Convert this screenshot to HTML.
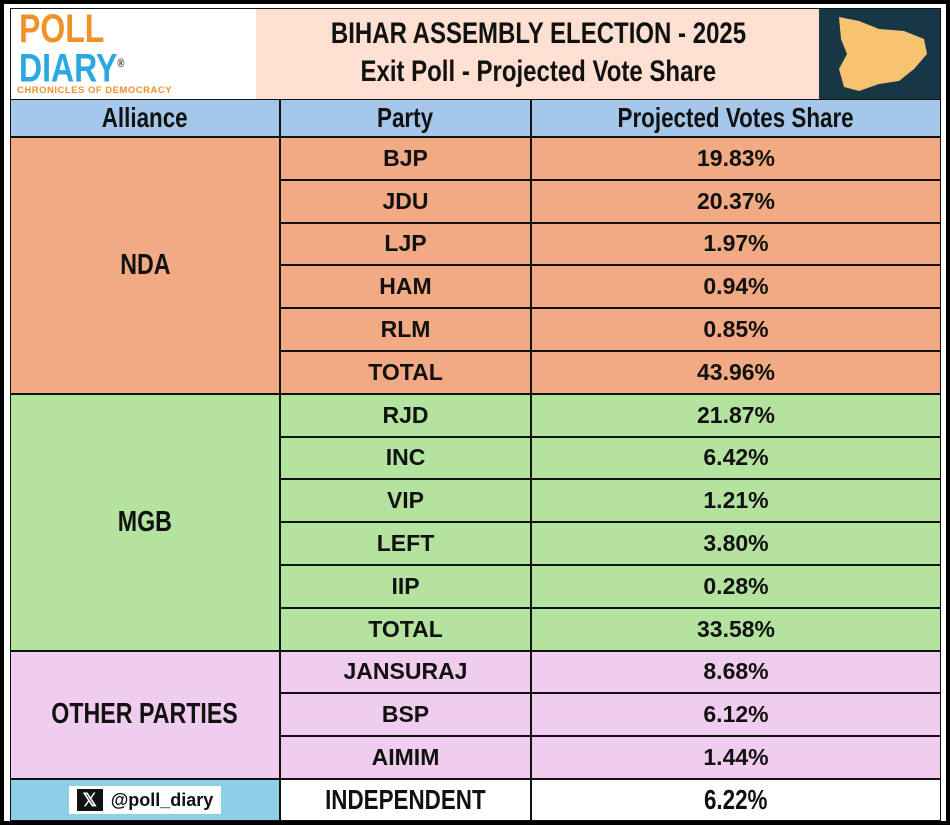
<!DOCTYPE html>
<html><head><meta charset="utf-8">
<style>
body{margin:0;width:950px;height:825px;background:#000;overflow:hidden;font-family:"Liberation Sans",sans-serif}
#frame{position:absolute;left:4px;top:4px;width:942px;height:817px;background:#fff}
.c{position:absolute;box-sizing:border-box;display:flex;align-items:center;justify-content:center;font-weight:bold;color:#111;font-size:23px;white-space:nowrap}
.nar{display:inline-block;transform:scaleX(0.8)}
</style></head><body>
<div id="frame"></div>
<div id="root"></div>
<script>
const parties=["BJP","JDU","LJP","HAM","RLM","TOTAL","RJD","INC","VIP","LEFT","IIP","TOTAL","JANSURAJ","BSP","AIMIM","INDEPENDENT"];
const shares=[19.83,20.37,1.97,0.94,0.85,43.96,21.87,6.42,1.21,3.80,0.28,33.58,8.68,6.12,1.44,6.22];
const groups=["NDA","MGB","OTHER PARTIES"];
const groupSizes=[6,6,3];
const groupColors=["#f2aa84","#b4e3a0","#f0cdee"];
const root=document.getElementById('root');
function box(x,y,w,h,bg,txt,name,narrow,fs){
  const d=document.createElement('div');
  d.className='c';
  d.style.cssText=`left:${x}px;top:${y}px;width:${w}px;height:${h}px;background:${bg};border:1.5px solid #111;`+(fs?`font-size:${fs}px;`:'');
  if(narrow){d.innerHTML='<span class="nar">'+txt+'</span>';}else d.textContent=txt;
  
  
  root.appendChild(d);return d;
}
const X0=10,X1=280,X2=531,X3=941;
const t=box(X0,8,X3-X0,92,'#fde0d2','','title-banner');
const logo=document.createElement('div');
logo.style.cssText='position:absolute;left:0;top:0;width:245px;height:90px;background:#fff;overflow:hidden';
logo.innerHTML='<div style="position:absolute;left:8px;top:2px;font-size:40px;font-weight:bold;color:#f0922a;line-height:36px;transform:scaleX(0.8);transform-origin:left">POLL</div><div style="position:absolute;left:8px;top:36px;font-size:40px;font-weight:bold;color:#2ba8df;line-height:36px;transform:scaleX(0.8);transform-origin:left">DIARY<sup style="font-size:12px;color:#333">®</sup></div><div style="position:absolute;left:6px;top:76px;font-size:9.5px;font-weight:bold;color:#f0922a;letter-spacing:0.5px">CHRONICLES OF DEMOCRACY</div>';


t.appendChild(logo);
const tt=document.createElement('div');
tt.style.cssText='position:absolute;left:245px;width:565px;top:6px;text-align:center;font-size:30px;line-height:38px;color:#111';
tt.innerHTML='<span class="nar">BIHAR ASSEMBLY ELECTION - 2025</span><br><span class="nar">Exit Poll - Projected Vote Share</span>';


t.appendChild(tt);
const map=document.createElement('div');
map.style.cssText='position:absolute;right:0;top:0;width:121px;height:90px;background:#173646';
map.innerHTML='<svg width="121" height="90"><path d="M20 8 L40 12 L60 20 L85 22 L105 30 L108 45 L95 60 L80 72 L60 75 L40 82 L25 78 L20 60 L28 45 L22 30 Z" fill="#f7c370"/></svg>';


t.appendChild(map);
const HY=99,HH=38;
box(X0,HY,X1-X0,HH,'#a5c8ea','Alliance','header-alliance',true,28);
box(X1,HY,X2-X1,HH,'#a5c8ea','Party','header-party',true,28);
box(X2,HY,X3-X2,HH,'#a5c8ea','Projected Votes Share','header-share',true,28);
const RH=42.8;let y=HY+HH,i=0;
groups.forEach((g,gi)=>{
  const n=groupSizes[gi];
  box(X0,y,X1-X0,RH*n,groupColors[gi],g,'alliance-'+g.toLowerCase().replace(' ','-'),true,29);
  for(let k=0;k<n;k++){
    box(X1,y+k*RH,X2-X1,RH,groupColors[gi],parties[i],'party-'+parties[i].toLowerCase());
    box(X2,y+k*RH,X3-X2,RH,groupColors[gi],shares[i].toFixed(2)+'%','share-'+parties[i].toLowerCase());
    i++;
  }
  y+=RH*n;
});
const hb=box(X0,y,X1-X0,821-y,'#8ecfe6','','handle-cell');
hb.innerHTML='<span style="background:#fff;padding:3px 8px;font-size:18px;display:flex;align-items:center;gap:8px"><span style="background:#111;color:#fff;width:26px;height:22px;display:inline-flex;align-items:center;justify-content:center">𝕏</span>@poll_diary</span>';
box(X1,y,X2-X1,821-y,'#fff',parties[i],'party-independent',true,28);
box(X2,y,X3-X2,821-y,'#fff',shares[i].toFixed(2)+'%','share-independent',true,28);
</script>
</body></html>
